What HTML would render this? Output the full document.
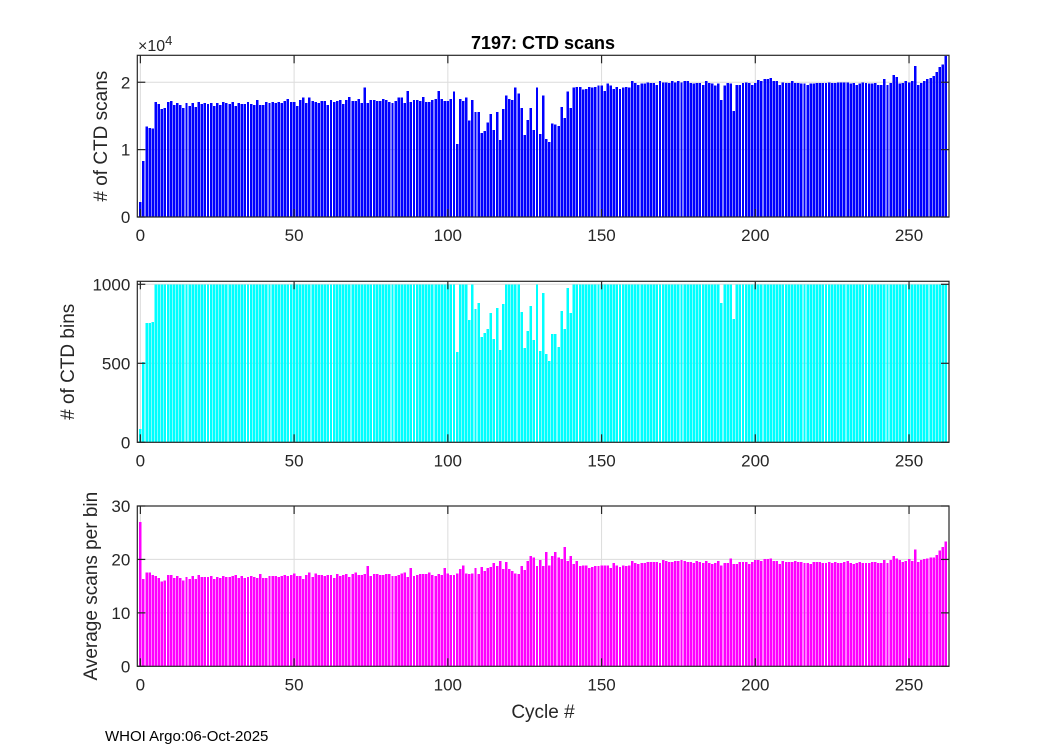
<!DOCTYPE html>
<html><head><meta charset="utf-8"><style>
body{margin:0;background:#fff;}
svg{display:block;font-family:"Liberation Sans",sans-serif;}
</style></head><body>
<svg id="chart" width="1050" height="750" viewBox="0 0 1050 750" xmlns="http://www.w3.org/2000/svg">
<rect width="1050" height="750" fill="#fff"/>
<text x="543" y="49" text-anchor="middle" font-size="18" font-weight="bold" fill="#000">7197: CTD scans</text>
<text x="543" y="718" text-anchor="middle" font-size="19" fill="#262626">Cycle #</text>
<text x="105" y="741" font-size="15" fill="#000">WHOI Argo:06-Oct-2025</text>
<text x="138" y="51" font-size="16" fill="#262626">×10<tspan dy="-6" font-size="13">4</tspan></text>
</svg>
<script>
const scans=[2200,8300,13400,13200,13100,17100,16800,16000,16200,17100,17200,16600,16900,16600,16200,16900,16500,16900,16300,17100,16800,16900,16800,16900,16500,16900,16600,17100,16900,16800,17100,16500,16900,16800,16800,17100,16800,16600,17400,16600,16600,17100,16900,17100,16900,17100,16900,17200,17500,17100,17100,16500,17400,17700,16900,17700,17200,17100,16900,17200,17200,16600,17400,17100,17200,17400,16800,17400,17800,17200,17200,17500,16900,19200,16900,17400,17400,17200,17200,17500,17400,17100,16900,17200,17700,17700,16900,18700,17100,
17400,17400,17200,17800,17100,17100,17400,17500,18700,17500,17200,17200,17500,18600,10800,17500,17200,17700,14300,17400,15600,15600,12500,12800,14000,15300,12900,15600,11400,16000,18000,17500,17400,19200,18300,16200,12200,14400,16200,12900,19200,12300,18000,11600,11100,13900,13700,13500,16300,14700,18600,16200,19200,19300,19300,18900,19000,19300,19200,19300,19500,19500,18700,19800,19500,19000,19300,19000,19200,19300,19200,20200,19900,19600,19800,19800,20000,19900,19900,19600,20200,20000,20000,19900,20200,20000,
20200,20000,20200,20200,19900,19800,19900,19900,19600,20200,19900,19800,19500,19800,17400,19500,19900,19800,15700,19600,19600,19900,20000,19900,19600,19900,20300,20200,20500,20500,20600,20200,20200,19600,20000,19900,19900,20200,19900,19900,19800,19800,19600,19800,19800,19900,19900,19900,19900,20000,19900,19900,20000,20000,20000,20000,19800,19900,19600,19800,20000,19900,19800,19800,19900,19600,19600,20500,19600,19900,21100,20800,19800,19900,20200,20000,20200,22400,19600,19900,20200,20500,20600,20900,21500,22300,22600,23900];
const bins=[
84,508,755,755,762,1000,1000,1000,1000,1000,
1000,1000,1000,1000,1000,1000,1000,1000,1000,1000,
1000,1000,1000,1000,1000,1000,1000,1000,1000,1000,
1000,1000,1000,1000,1000,1000,1000,1000,1000,1000,
1000,1000,1000,1000,1000,1000,1000,1000,1000,1000,
1000,1000,1000,1000,1000,1000,1000,1000,1000,1000,
1000,1000,1000,1000,1000,1000,1000,1000,1000,1000,
1000,1000,1000,1000,1000,1000,1000,1000,1000,1000,
1000,1000,1000,1000,1000,1000,1000,1000,1000,1000,
1000,1000,1000,1000,1000,1000,1000,1000,1000,1000,
1000,1000,1000,572,1000,1000,1000,774,1000,844,
882,665,692,717,819,654,850,584,876,1000,
1000,1000,1000,1000,825,597,705,863,648,1000,
578,945,559,515,686,686,603,831,717,977,
819,1000,1000,1000,1000,1000,1000,1000,1000,1000,
1000,1000,1000,1000,1000,1000,1000,1000,1000,1000,
1000,1000,1000,1000,1000,1000,1000,1000,1000,1000,
1000,1000,1000,1000,1000,1000,1000,1000,1000,1000,
1000,1000,1000,1000,1000,1000,1000,1000,1000,882,
1000,1000,1000,781,1000,1000,1000,1000,1000,1000,
1000,1000,1000,1000,1000,1000,1000,1000,1000,1000,
1000,1000,1000,1000,1000,1000,1000,1000,1000,1000,
1000,1000,1000,1000,1000,1000,1000,1000,1000,1000,
1000,1000,1000,1000,1000,1000,1000,1000,1000,1000,
1000,1000,1000,1000,1000,1000,1000,1000,1000,1000,
1000,1000,1000,1000,1000,1000,1000,1000,1000,1000,
1000,1000,1000];
const avgScans=[27.0,16.3,17.6,17.6,17.1,16.9,16.5,15.9,16.1,17.1,17.1,16.5,16.9,16.5,16.1,16.7,16.3,16.9,16.3,17.1,16.7,16.7,16.7,16.9,16.3,16.7,16.5,16.9,16.7,16.7,16.9,17.1,16.5,16.9,16.5,16.7,16.9,16.7,16.5,17.3,16.5,16.5,16.9,16.9,16.9,16.7,16.9,17.1,16.9,17.1,17.4,16.9,16.9,16.3,17.1,17.6,16.7,17.4,17.1,17.1,16.9,17.1,17.1,16.5,17.3,16.9,17.1,17.3,16.7,17.3,17.6,17.1,17.1,17.3,18.75,16.9,17.3,17.3,17.1,17.1,17.3,17.3,16.9,16.9,17.1,17.4,17.6,16.7,18.4,16.9,
17.1,17.3,17.3,17.3,17.6,17.1,16.9,17.3,17.1,18.4,17.4,17.1,17.1,17.4,18.2,18.9,17.4,17.3,17.4,18.4,17.3,18.6,17.8,18.4,18.6,19.3,18.75,19.7,18.2,19.5,18.2,17.8,17.4,17.3,18.75,18.0,19.7,20.6,20.4,18.75,19.9,18.75,21.4,18.9,20.6,21.4,20.4,20.1,22.3,19.7,20.6,19.1,19.7,18.75,18.9,18.9,18.4,18.6,18.75,18.75,18.9,18.9,18.9,18.4,19.3,18.9,18.6,18.9,18.75,18.9,19.7,19.3,19.1,19.3,19.3,19.5,19.5,19.5,19.5,19.3,19.9,19.7,19.5,19.5,19.7,19.7,19.9,19.7,
19.5,19.5,19.3,19.7,19.5,19.3,19.7,19.3,19.1,19.3,19.7,18.9,19.3,19.3,20.2,19.1,19.1,19.5,19.5,19.5,19.1,19.5,19.9,19.9,19.7,20.1,20.1,20.2,19.7,19.7,19.1,19.7,19.5,19.5,19.5,19.7,19.5,19.5,19.3,19.3,19.1,19.5,19.5,19.5,19.3,19.3,19.5,19.3,19.5,19.3,19.3,19.5,19.7,19.3,19.1,19.3,19.5,19.3,19.3,19.3,19.5,19.5,19.3,19.3,19.9,19.3,19.9,20.6,20.2,19.9,19.5,19.7,20.1,19.7,21.9,19.5,19.9,20.1,20.2,20.4,20.4,20.8,21.7,22.3,23.4];
const xTicks=[0,50,100,150,200,250];
const scanTicks=[0,1,2];
const binTicks=[0,500,1000];
const avgTicks=[0,10,20,30];

const NS="http://www.w3.org/2000/svg";
const svg=document.getElementById('chart');
const X0=137.3,X1=949,XMIN=-1,XMAX=263;
function xs(v){return X0+(v-XMIN)/(XMAX-XMIN)*(X1-X0);}
function mk(tag,attrs,parent){const e=document.createElementNS(NS,tag);for(const k in attrs)e.setAttribute(k,attrs[k]);(parent||svg).appendChild(e);return e;}

function panel(name,top,bot,ymax,vals,scale,color,yticks,ylabel,ylabelX){
  const g=mk('g',{});
  
  
  const ys=v=>bot-(v/ymax)*(bot-top);
  xTicks.forEach(t=>{const l=mk('line',{x1:xs(t),x2:xs(t),y1:top,y2:bot,stroke:'#dcdcdc','stroke-width':1},g);
    
    });
  yticks.forEach(t=>{const l=mk('line',{x1:X0,x2:X1,y1:ys(t*scale),y2:ys(t*scale),stroke:'#dcdcdc','stroke-width':1},g);
    
    });
  const w=(xs(1)-xs(0))*0.8;
  const n=Math.min(vals.length,XMAX);
  for(let i=0;i<n;i++){const v=vals[i];const y=ys(Math.min(v,ymax));
    const r=mk('rect',{x:xs(i)-w/2,y:y,width:w,height:bot-y,fill:color,'shape-rendering':'crispEdges'},g);
    
    }
  const b=mk('rect',{x:X0,y:top,width:X1-X0,height:bot-top,fill:'none',stroke:'#262626','stroke-width':1.2},g);
  
  
  xTicks.forEach(t=>{
    mk('line',{x1:xs(t),x2:xs(t),y1:bot,y2:bot-8,stroke:'#262626','stroke-width':1.2},g);
    mk('line',{x1:xs(t),x2:xs(t),y1:top,y2:top+8,stroke:'#262626','stroke-width':1.2},g);
    const tx=mk('text',{x:xs(t),y:bot+24,'text-anchor':'middle','font-size':17,fill:'#262626'},g);
    tx.textContent=t;
    
    
  });
  yticks.forEach(t=>{
    const y=ys(t*scale);
    mk('line',{x1:X0,x2:X0+8,y1:y,y2:y,stroke:'#262626','stroke-width':1.2},g);
    mk('line',{x1:X1,x2:X1-8,y1:y,y2:y,stroke:'#262626','stroke-width':1.2},g);
    const tx=mk('text',{x:X0-7,y:y+6,'text-anchor':'end','font-size':17,fill:'#262626'},g);
    tx.textContent=t;
    
    
  });
  const cy=(top+bot)/2;
  const yl=mk('text',{x:ylabelX,y:cy,'text-anchor':'middle','font-size':19,fill:'#262626',transform:`rotate(-90 ${ylabelX} ${cy})`},g);
  yl.textContent=ylabel;
  
  
}
panel('scans',55.3,217,24000,scans,10000,'#0000ff',scanTicks,'# of CTD scans',107);
panel('bins',281.3,442.3,1019,bins,1,'#00ffff',binTicks,'# of CTD bins',74);
panel('avg',506,666.3,30,avgScans,1,'#ff00ff',avgTicks,'Average scans per bin',97);
</script>
</body></html>
